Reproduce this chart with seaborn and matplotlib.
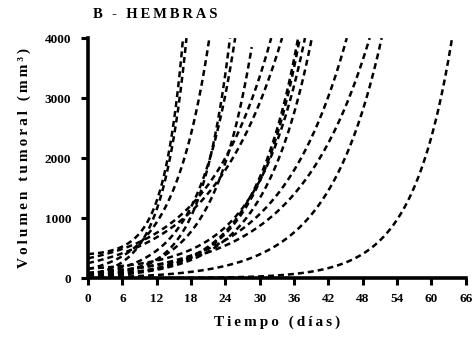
import numpy as np
import pandas as pd
import matplotlib
matplotlib.use("Agg")
import matplotlib.pyplot as plt
import seaborn as sns

# Fitted tumour growth curves, one per female mouse:
# volume at day 0, day of the last fitted point, volume at that day, growth rate (1/day)
vol_inicio = [400, 60, 150, 30, 70, 40, 330, 250, 40, 35, 160, 20, 80, 90, 10, 0.3]
dia_final = [16.6, 17.2, 21.2, 24.8, 25.7, 28.6, 32.0, 33.9, 36.7, 37.0, 37.9, 39.1, 45.2, 49.2, 51.3, 63.6]
vol_final = [4000, 4000, 4000, 4000, 4000, 3850, 4000, 4000, 4000, 4000, 4000, 4000, 4000, 4000, 4000, 4000]
tasa_k = [0.30, 0.24, 0.16, 0.20, 0.158, 0.15, 0.09, 0.08, 0.13, 0.13, 0.12, 0.12, 0.087, 0.08, 0.108, 0.147]

x_ticks = [0, 6, 12, 18, 24, 30, 36, 42, 48, 54, 60, 66]
y_ticks = [0, 1000, 2000, 3000, 4000]

rows = []
for i, (v0, t1, v1, k) in enumerate(zip(vol_inicio, dia_final, vol_final, tasa_k)):
    t = np.linspace(0, t1, 300)
    v = v0 + (v1 - v0) * np.expm1(k * t) / np.expm1(k * t1)
    rows.append(pd.DataFrame({"raton": i, "dia": t, "volumen": v}))
df = pd.concat(rows, ignore_index=True)

sns.set_theme(style="ticks")
plt.rcParams["font.family"] = ["Liberation Serif", "DejaVu Serif"]
plt.rcParams["font.weight"] = "bold"
plt.rcParams["text.color"] = "black"
plt.rcParams["axes.labelcolor"] = "black"
plt.rcParams["xtick.color"] = "black"
plt.rcParams["ytick.color"] = "black"


def espaciado(s):
    return "\u2009".join(s)


fig = plt.figure(figsize=(4.74, 3.40), dpi=100)
ax = fig.add_axes([0.1857, 0.182, 0.797, 0.706])

sns.lineplot(data=df, x="dia", y="volumen", units="raton", estimator=None,
             color="black", linewidth=1.8, ax=ax, legend=False)
for ln in ax.lines:
    ln.set_linestyle((0, (2.4, 1.6)))

ax.set_xlim(0, 66)
ax.set_ylim(0, 4000)
ax.set_xticks(x_ticks)
ax.set_yticks(y_ticks)
ax.set_xticklabels([str(v) for v in x_ticks], fontsize=9.5, fontweight="bold")
ax.set_yticklabels([str(v) for v in y_ticks], fontsize=9.5, fontweight="bold")
ax.tick_params(axis="x", length=5, width=2.2, color="black", pad=6)
ax.tick_params(axis="y", length=5, width=2.2, color="black", pad=7)

for side in ["left", "bottom"]:
    ax.spines[side].set_linewidth(2.6)
    ax.spines[side].set_color("black")
for side in ["top", "right"]:
    ax.spines[side].set_visible(False)

ax.set_xlabel(espaciado("Tiempo (días)"), fontsize=11, fontweight="bold", labelpad=7)
ax.set_ylabel(espaciado("Volumen tumoral (mm³)"), fontsize=11, fontweight="bold", labelpad=10)

fig.text(0.196, 0.958, espaciado("B - HEMBRAS"), fontsize=10.5, fontweight="bold",
         ha="left", va="center")

fig.savefig("out.png", dpi=100)
